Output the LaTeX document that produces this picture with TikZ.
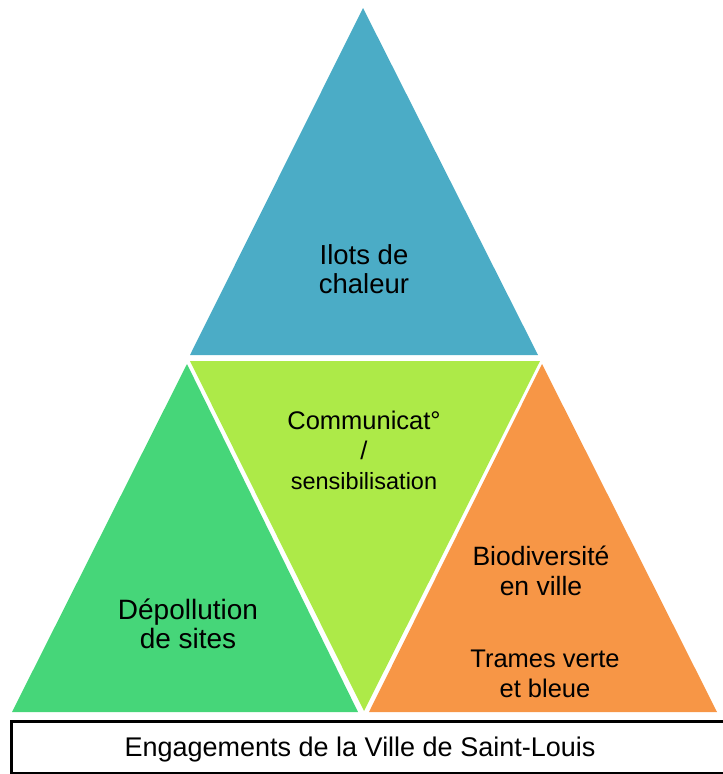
\documentclass[tikz,border=0pt]{standalone}
\usepackage{fontspec}
\setmainfont{Liberation Sans}
\definecolor{ilotblue}{RGB}{75,172,198}
\definecolor{comlime}{RGB}{173,234,72}
\definecolor{depgreen}{RGB}{70,214,121}
\definecolor{bioorange}{RGB}{247,150,70}
\begin{document}
\begin{tikzpicture}[x=1pt,y=-1pt,
		lbl/.style={align=center, inner sep=0pt, font=\fontsize{27}{29.5}\selectfont},
		frame/.style={draw=black, line width=3.5pt}]
		\useasboundingbox (0,0) rectangle (723,774);
		\clip (0,0) rectangle (723,774);
		
		% 上方三角形
		\fill[ilotblue] (363,8) -- (538,355) -- (190,355) -- cycle;
		\node[lbl, font=\fontsize{27.5}{29.5}\selectfont] (ilots) at (364,269) {Ilots de\\chaleur};
		
		% 中间倒三角形
		\fill[comlime] (190,361) -- (540,361) -- (364,711) -- cycle;
		\node[lbl, font=\fontsize{25.5}{30}\selectfont] (comm) at (364,450) {Communicat°\\/\\{\fontsize{23.5}{28}\selectfont sensibilisation}};
		
		% 左三角形
		\fill[depgreen] (187,364) -- (358,712) -- (12,712) -- cycle;
		\node[lbl, font=\fontsize{28}{29.5}\selectfont] (depol) at (188,624) {Dépollution\\de sites};
		
		% 右三角形
		\fill[bioorange] (542,364) -- (717,712) -- (369,712) -- cycle;
		\node[lbl, font=\fontsize{26.5}{29.5}\selectfont] (bio) at (541,571) {Biodiversité\\en ville};
		\node[lbl, font=\fontsize{25.5}{29.5}\selectfont] (trames) at (545,674) {Trames verte\\et bleue};
		
		% 底部框
		\draw[frame] (11.5,721.5) rectangle (735,773.5);
		\node[lbl] (engag) at (360,750) {Engagements de la Ville de Saint-Louis};
	\end{tikzpicture}
\end{document}
